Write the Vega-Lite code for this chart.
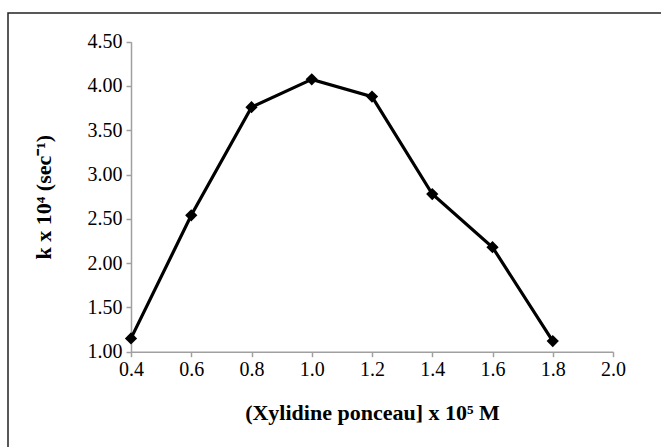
{
  "$schema": "https://vega.github.io/schema/vega-lite/v6.json",
  "autosize": {"type": "none"},
  "padding": {"left": 8, "top": 13, "right": 0, "bottom": 0},
  "width": 653,
  "height": 434,
  "background": "white",
  "config": {
    "view": {"stroke": "#222222", "strokeWidth": 1.5, "strokeDash": [653, 1087, 434]},
    "axis": {
      "grid": false,
      "labelFlush": false,
      "labelOverlap": false,
      "domainColor": "#a0a0a0",
      "domainWidth": 1.5,
      "tickColor": "#a0a0a0",
      "tickWidth": 1.5,
      "tickSize": 5,
      "labelFont": "Liberation Serif",
      "labelFontSize": 20,
      "labelColor": "#000000",
      "titleFont": "Liberation Serif",
      "titleFontSize": 22,
      "titleFontWeight": "bold",
      "titleColor": "#000000"
    }
  },
  "data": {
    "values": [
      {"conc": 0.4, "k": 1.15},
      {"conc": 0.6, "k": 2.54},
      {"conc": 0.8, "k": 3.76},
      {"conc": 1.0, "k": 4.075},
      {"conc": 1.2, "k": 3.88},
      {"conc": 1.4, "k": 2.78},
      {"conc": 1.6, "k": 2.18},
      {"conc": 1.8, "k": 1.12}
    ]
  },
  "encoding": {
    "x": {
      "field": "conc",
      "type": "quantitative",
      "scale": {"domain": [0.4, 2.0], "range": [123, 605], "nice": false, "zero": false},
      "axis": {
        "title": "(Xylidine ponceau] x 10⁵ M",
        "values": [0.4, 0.6, 0.8, 1.0, 1.2, 1.4, 1.6, 1.8, 2.0],
        "format": ".1f",
        "offset": -95.3,
        "labelPadding": 3,
        "titlePadding": 23
      }
    },
    "y": {
      "field": "k",
      "type": "quantitative",
      "scale": {"domain": [1, 4.5], "range": [338.7, 28.7], "nice": false, "zero": false},
      "axis": {
        "title": "k x 10⁴ (sec⁻¹)",
        "values": [1, 1.5, 2, 2.5, 3, 3.5, 4, 4.5],
        "format": ".2f",
        "offset": -123,
        "labelPadding": 4,
        "titlePadding": 32
      }
    }
  },
  "layer": [
    {"mark": {"type": "line", "color": "#000000", "strokeWidth": 3.2}},
    {"mark": {"type": "point", "shape": "diamond", "filled": true, "color": "#000000", "size": 150, "opacity": 1}}
  ]
}
